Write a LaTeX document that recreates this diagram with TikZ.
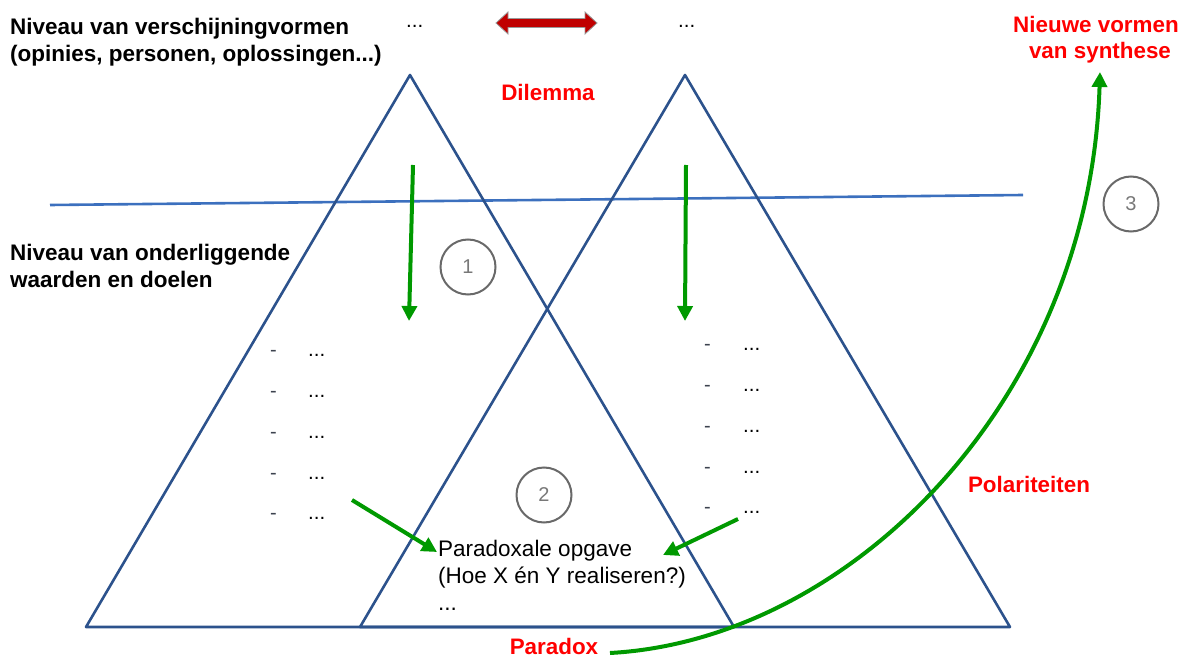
\documentclass[tikz,border=0pt]{standalone}
\usepackage{fontspec}
\setmainfont{Liberation Sans}
\usetikzlibrary{arrows.meta}
\definecolor{triblue}{RGB}{44,82,140}
\definecolor{lineblue}{RGB}{60,112,190}
\definecolor{grn}{RGB}{0,153,0}
\definecolor{circgray}{RGB}{105,105,105}
\definecolor{numgray}{RGB}{120,120,120}
\definecolor{txtred}{RGB}{255,0,0}
\definecolor{darkred}{RGB}{192,0,0}
\definecolor{dashgray}{RGB}{60,66,78}
\tikzset{
  tri/.style={draw=triblue, line width=2.6pt, line join=round},
  garrow/.style={draw=grn, line width=4pt, -{Triangle[length=15pt,width=15pt]}},
  numcirc/.style={circle, draw=circgray, line width=2pt, minimum size=55pt, inner sep=0pt, text=numgray, font=\fontsize{20}{22}\selectfont},
  blab/.style={anchor=base west, inner sep=0pt, font=\bfseries\fontsize{22.5}{27}\selectfont},
  rlab/.style={anchor=base, inner sep=0pt, text=txtred, font=\bfseries\fontsize{22.4}{27}\selectfont},
  plain/.style={anchor=base west, inner sep=0pt, font=\fontsize{22.5}{27}\selectfont},
  dashtxt/.style={anchor=base west, inner sep=0pt, text=dashgray, font=\fontsize{20}{24}\selectfont},
  dots/.style={anchor=base west, inner sep=0pt, font=\fontsize{20.5}{24}\selectfont},
}
\begin{document}
\begin{tikzpicture}[x=1pt,y=-1pt]
\useasboundingbox (0,0) rectangle (1189,658);

% blue horizontal level line
\draw[lineblue, line width=2.6pt] (50,205) -- (1023,195);

% triangles
\draw[tri] (410,75) -- (734,627) -- (86,627) -- cycle;
\draw[tri] (685,75) -- (1010,627) -- (360,627) -- cycle;

% top-left labels
\node[blab] (lvl1a) at (10,35) {Niveau van verschijningvormen};
\node[blab] (lvl1b) at (10,62) {(opinies, personen, oplossingen...)};
\node[blab] (lvl2a) at (10,260) {Niveau van onderliggende};
\node[blab] (lvl2b) at (10,287) {waarden en doelen};

% top dots
\node[dots] (topl) at (406,28) {...};
\node[dots] (topr) at (678,28) {...};

% red double arrow
\draw[fill=darkred, draw=gray!80, line width=0.8pt, line join=miter]
  (496,23) -- (508,12) -- (508,18.5) -- (585,18.5) -- (585,12) -- (597,23)
  -- (585,34) -- (585,27.5) -- (508,27.5) -- (508,34) -- cycle;

% red labels
\node[rlab] (dilemma) at (548,101) {Dilemma};
\node[rlab] (synth1) at (1096,33) {Nieuwe vormen};
\node[rlab] (synth2) at (1100,59) {van synthese};
\node[rlab] (polar) at (1029,492) {Polariteiten};
\node[rlab] (paradox) at (554,654) {Paradox};

% numbered circles
\node[numcirc] (c1) at (468,267) {1};
\node[numcirc] (c2) at (544,495) {2};
\node[numcirc] (c3) at (1131,204) {3};

% left list
\foreach \y [count=\i] in {356,397,438,479,519}{
  \node[dashtxt] (ld\i) at (270,\y) {-};
  \node[dots] (lt\i) at (308,\y) {...};
}
% right list
\foreach \y [count=\i] in {350,391,432,473,513}{
  \node[dashtxt] (rd\i) at (704,\y) {-};
  \node[dots] (rt\i) at (743,\y) {...};
}

% paradoxal task text
\node[plain] (task1) at (438,556) {Paradoxale opgave};
\node[plain] (task2) at (438,583) {(Hoe X én Y realiseren?)};
\node[plain] (task3) at (438,610) {...};

% green arrows
\coordinate (a1s) at (413,165);
\coordinate (a1e) at (409,321);
\coordinate (a2s) at (686,165);
\coordinate (a2e) at (685,321);
\coordinate (a3s) at (352,500);
\coordinate (a3e) at (437,552);
\coordinate (a4s) at (738,519);
\coordinate (a4e) at (663,555);
\draw[garrow] (a1s) -- (a1e);
\draw[garrow] (a2s) -- (a2e);
\draw[garrow] (a3s) -- (a3e);
\draw[garrow] (a4s) -- (a4e);

% synthesis curve
\coordinate (cs) at (610,653);
\coordinate (ce) at (1100,72);
\draw[garrow] (cs) .. controls (850,640) and (1090,400) .. (ce);
\end{tikzpicture}
\end{document}
